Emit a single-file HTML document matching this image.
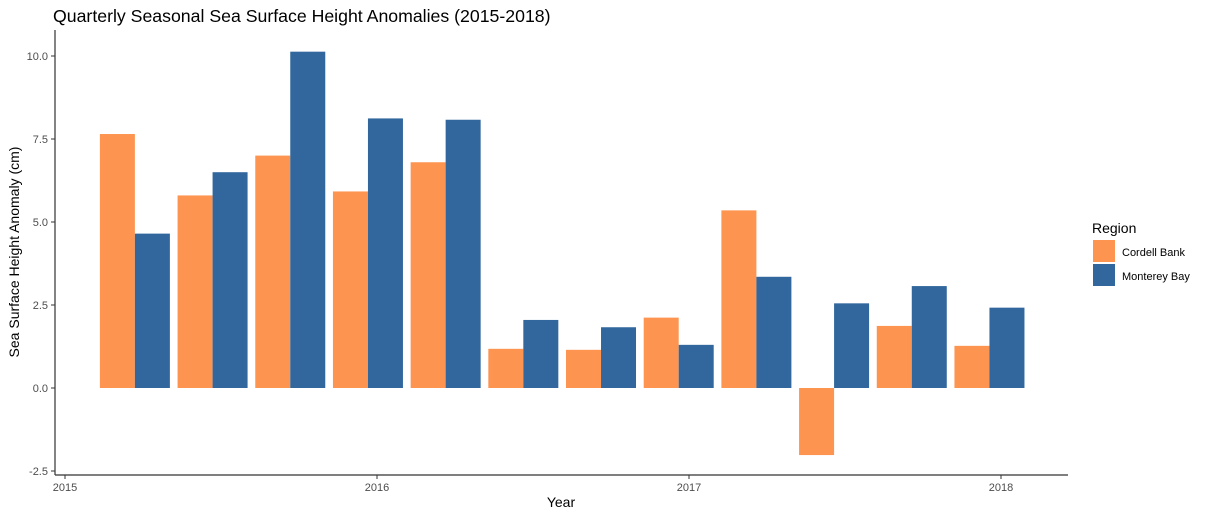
<!DOCTYPE html>
<html><head><meta charset="utf-8"><style>
body{margin:0;background:#fff;font-family:"Liberation Sans",sans-serif;}
</style></head><body>
<svg id="chart" width="1209" height="517" xmlns="http://www.w3.org/2000/svg" font-family="Liberation Sans, sans-serif">
<text x="53" y="22" font-size="17.7" fill="#000">Quarterly Seasonal Sea Surface Height Anomalies (2015-2018)</text>
<g id="plot"></g>
<text x="561" y="507" font-size="14" text-anchor="middle">Year</text>
<text transform="translate(19,252) rotate(-90)" font-size="14" text-anchor="middle">Sea Surface Height Anomaly (cm)</text>
<g>
<text x="1092" y="233" font-size="14">Region</text>
<rect x="1093" y="240" width="22" height="22" fill="#FD9450"/>
<text x="1122" y="256" font-size="11">Cordell Bank</text>
<rect x="1093" y="264" width="22" height="22" fill="#31679D"/>
<text x="1122" y="280" font-size="11">Monterey Bay</text>
</g>
</svg>
<script>
const quarters = [2015.224,2015.473,2015.722,2015.971,2016.22,2016.469,2016.718,2016.967,2017.216,2017.465,2017.714,2017.963];
const cordell = [7.65,5.8,7.0,5.92,6.8,1.18,1.15,2.12,5.35,-2.02,1.87,1.27];
const monterey = [4.65,6.5,10.13,8.12,8.08,2.05,1.83,1.3,3.35,2.55,3.07,2.42];
const yTicks = [-2.5,0,2.5,5,7.5,10];
const yTickLabels = ["-2.5","0.0","2.5","5.0","7.5","10.0"];
const xTicks = [2015,2016,2017,2018];
const xTickLabels = ["2015","2016","2017","2018"];
const NS="http://www.w3.org/2000/svg";
const g=document.getElementById('plot');
const xs=v=>65+(v-2015)*312;
const ys=v=>388-v*33.2;
const barW=35;
function mk(t,a){const e=document.createElementNS(NS,t);for(const k in a)e.setAttribute(k,a[k]);g.appendChild(e);return e;}
quarters.forEach((q,i)=>{
  const c=xs(q);
  [[cordell[i],c-barW,'#FD9450','bar-cordell-'+i],[monterey[i],c,'#31679D','bar-monterey-'+i]].forEach(([v,x,col,n])=>{
    const r=mk('rect',{x:x,y:Math.min(ys(v),ys(0)),width:barW,height:Math.abs(ys(v)-ys(0)),fill:col});
    
    
  });
});
const ya=mk('line',{x1:55,x2:55,y1:30,y2:475,stroke:'#333','stroke-width':1.2});


const xa=mk('line',{x1:55,x2:1068,y1:475,y2:475,stroke:'#333','stroke-width':1.2});


yTicks.forEach((v,i)=>{
  mk('line',{x1:51,x2:55,y1:ys(v),y2:ys(v),stroke:'#333'});
  const t=mk('text',{x:48,y:ys(v)+4,'font-size':11,fill:'#4d4d4d','text-anchor':'end'});
  t.textContent=yTickLabels[i];
  
  
});
xTicks.forEach((v,i)=>{
  mk('line',{x1:xs(v),x2:xs(v),y1:475,y2:479,stroke:'#333'});
  const t=mk('text',{x:xs(v),y:491,'font-size':11,fill:'#4d4d4d','text-anchor':'middle'});
  t.textContent=xTickLabels[i];
  
  
});
</script>
</body></html>
